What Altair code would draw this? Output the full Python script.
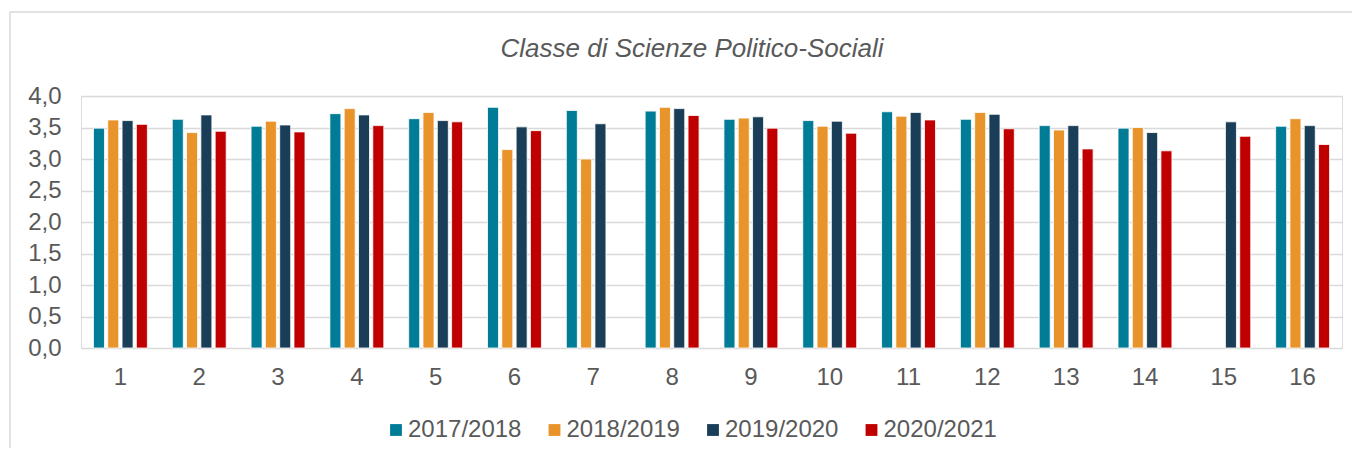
import altair as alt
import pandas as pd

categories = [str(i) for i in range(1, 17)]
series = ["2017/2018", "2018/2019", "2019/2020", "2020/2021"]
v2017 = [3.49, 3.63, 3.52, 3.72, 3.64, 3.82, 3.77, 3.76, 3.63, 3.61, 3.75, 3.63, 3.53, 3.49, None, 3.52]
v2018 = [3.62, 3.42, 3.60, 3.80, 3.74, 3.15, 3.00, 3.82, 3.65, 3.52, 3.68, 3.74, 3.46, 3.50, None, 3.64]
v2019 = [3.61, 3.70, 3.54, 3.70, 3.61, 3.51, 3.56, 3.80, 3.67, 3.60, 3.74, 3.71, 3.53, 3.42, 3.59, 3.53]
v2020 = [3.55, 3.44, 3.43, 3.53, 3.59, 3.45, None, 3.69, 3.49, 3.41, 3.62, 3.48, 3.16, 3.13, 3.36, 3.23]
colors = ["#007C96", "#E8942A", "#1B3E58", "#C00000"]
y_ticks = [0, 0.5, 1.0, 1.5, 2.0, 2.5, 3.0, 3.5, 4.0]
title_text = "Classe di Scienze Politico-Sociali"

rows = []
for s, vals in zip(series, [v2017, v2018, v2019, v2020]):
    for c, v in zip(categories, vals):
        if v is not None:
            rows.append({"cat": c, "anno": s, "val": v})
df = pd.DataFrame(rows)

FONT = "Liberation Sans"
GREY = "#595959"
W, H = 1261, 252

bars = alt.Chart(df).mark_bar(stroke="white", strokeWidth=0.8).encode(
    x=alt.X("cat:N", sort=categories,
            scale=alt.Scale(paddingInner=0.274, paddingOuter=0.137),
            axis=alt.Axis(title=None, labelAngle=0, domain=False, ticks=False,
                          labelPadding=17, labelFontSize=24, labelColor=GREY,
                          labelFont=FONT, grid=False)),
    xOffset=alt.XOffset("anno:N", sort=series,
                        scale=alt.Scale(paddingInner=0.23, paddingOuter=0.115)),
    y=alt.Y("val:Q", scale=alt.Scale(domain=[0, 4], nice=False),
            axis=alt.Axis(title=None, values=y_ticks, domain=False, ticks=False,
                          labelPadding=20, labelFontSize=24, labelColor=GREY,
                          labelFont=FONT, gridColor="#D9D9D9", gridWidth=1.4,
                          labelExpr="replace(format(datum.value, '.1f'), '.', ',')")),
    color=alt.Color("anno:N", sort=series,
                    scale=alt.Scale(domain=series, range=colors),
                    legend=alt.Legend(title=None, orient="none", direction="horizontal",
                                      legendX=303, legendY=322, symbolType="square",
                                      symbolSize=140, symbolStrokeWidth=0,
                                      labelFontSize=24, labelColor=GREY, labelFont=FONT,
                                      labelOffset=0, columnPadding=20.5, padding=0)),
)

one = pd.DataFrame({"t": [title_text]})

border = alt.Chart(one).mark_rect(
    fill=None, stroke="#D9D9D9", strokeWidth=1.5
).encode(
    x=alt.value(-71), x2=alt.value(W + 60), y=alt.value(-84), y2=alt.value(H + 140)
)

title = alt.Chart(one).mark_text(
    font=FONT, fontSize=26, fontStyle="italic", color=GREY,
    align="center", baseline="alphabetic"
).encode(text="t:N", x=alt.value(611), y=alt.value(-39))

chart = alt.layer(border, title, bars).properties(
    width=W, height=H,
    padding={"left": 73, "top": 88, "right": 10, "bottom": 100},
    autosize=alt.AutoSizeParams(type="none"),
).configure_view(stroke=None).configure(background="white")

chart.save("out.html", embed_options={"renderer": "svg", "actions": False})
